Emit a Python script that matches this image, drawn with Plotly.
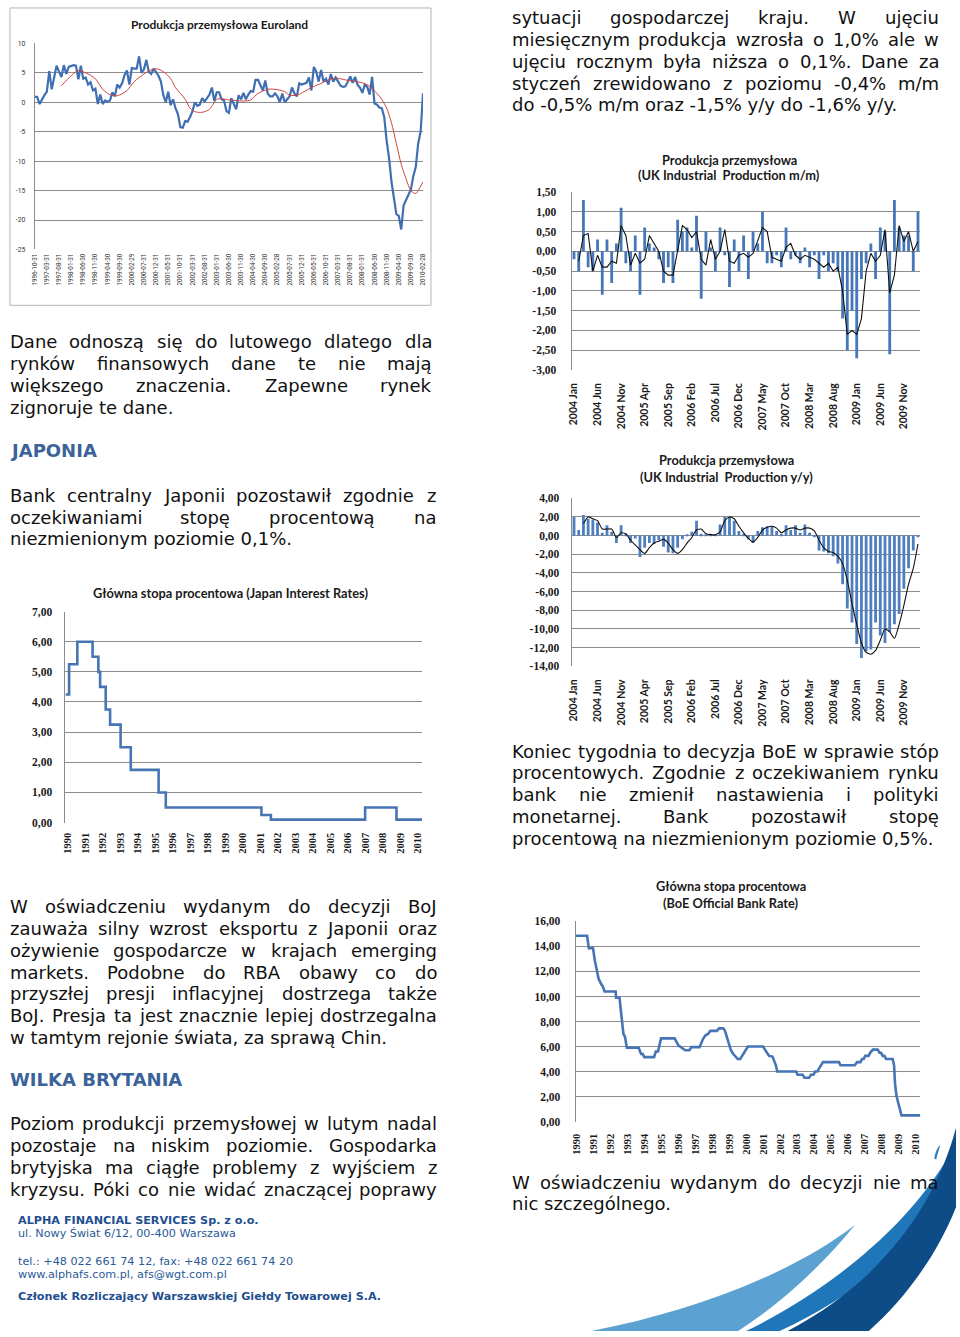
import plotly.graph_objects as go
import pandas as pd

W, H = 960, 1337

# ---------------- data ----------------
# Euroland industrial production y/y, monthly from 1996-10
euro_start = '1996-10'
euro_ip = [0.9, 0.9, -0.3, 0.5, 1.2, 1.8, 5.3, 2.2, 4.3, 6.2, 5.2, 4.3, 6.3, 4.8, 6.0, 6.2, 6.3, 6.2, 3.9, 6.2,
           4.0, 4.2, 3.0, 3.4, 2.0, 2.3,
           -0.3, 1.3, -0.3, 0.3, 0.1, 0.3,
           1.7, 1.0, 3.0, 2.5, 3.2, 4.6, 5.4, 3.0, 5.8, 5.7, 5.7, 7.8, 5.0, 5.6, 7.2, 5.2,
           4.8, 5.7, 5.2, 4.5, 3.5, 1.2, 0.0, 1.8, -0.5, 0.5, -1.0, -2.0, -4.2, -4.3,
           -3.2, -3.3, -2.5, -1.5, 0.0, -0.6, -0.4, 0.7, 0.1, 0.8, 1.3, 2.5, 0.2, 1.7, 1.7, 0.5, 0.3, -1.5,
           -1.8, 0.7, -0.2, -1.2, 1.2, 0.5, 1.6, 0.5, 1.3, 1.9, 1.8, 3.8, 3.8, 2.8, 2.0, 3.7, 1.5, 1.0,
           1.0, 1.5, 1.0, 0.0, 1.5, 0.0, 0.5, 1.0, 2.5, 1.5, 1.0, 3.2, 3.0, 3.2, 3.3, 4.2, 2.0, 6.0,
           5.2, 3.5, 5.5, 3.5, 4.0, 3.0, 4.8, 3.5, 4.2, 3.5, 2.8, 2.6, 2.7, 3.5, 4.4, 3.3, 4.3, 3.0,
           2.5, 1.6, 3.0, 2.6, 1.3, 4.3,
           -0.2, -0.4, -0.9, -1.0, -2.5, -6.5, -9.5, -13.5, -16.5, -19.0, -19.3, -21.6, -17.5, -16.5,
           -15.5, -14.8, -12.5, -11.0, -7.0, -5.0, 1.5]
euro_ma_month = [11, 15, 18, 21, 25, 28, 31, 34, 38, 41, 45, 48, 50, 53, 56, 58, 62, 64, 66, 69, 72, 75, 77,
                 80, 83, 86, 89, 92, 96, 99, 103, 105, 108, 111, 114, 118, 121, 124, 128, 131, 135, 138,
                 141, 143, 145, 147, 149, 151, 153, 155, 157, 158, 160]
euro_ma = [2.8, 4.5, 5.4, 5.0, 4.0, 2.2, 1.3, 1.1, 2.0, 3.5, 4.8, 5.5, 5.7, 5.2, 4.0, 2.5, 0.5, -1.0, -1.6,
           -1.7, -1.2, 0.5, 0.6, 0.4, 0.3, 0.2, 0.4, 1.5, 2.2, 2.2, 1.8, 1.2, 1.2, 1.8, 2.5, 3.2, 3.8, 4.1,
           3.8, 3.6, 3.3, 2.7, 1.5, 0.5, -1.0, -3.5, -7.0, -10.5, -13.0, -15.0, -15.5, -15.0, -13.5]
euro_yticks = [10, 5, 0, -5, -10, -15, -20, -25]

# UK industrial production m/m, monthly from 2004 Jan
uk_start = '2004-01'
uk_mm = [-0.2, -0.5, 1.3, -0.4, -0.5, 0.3, -1.1, 0.3, -0.8, 0.2, 1.1,
         -0.3, -0.5, 0.4, -1.1, 0.6, 0.2, 0.1, -0.2, -0.8, -0.4,
         -0.8, 0.8, 0.5, 0.6, 0.1, 0.9, -1.2, 0.5, 0.1, -0.5,
         0.6, -0.1, -0.9, 0.3, -0.5, 0.4, -0.7, 0.5, 0.2, 1.0,
         -0.3, -0.3, -0.1, -0.4, 0.6, -0.2, -0.1, -0.3, 0.1, -0.4,
         -0.1, -0.7, -0.1, -0.5, -0.3, -0.5, -1.7, -2.5, -1.5, -2.7,
         -0.7, -0.3, 0.2, -0.7, 0.6, 0.5, -2.6, 1.3, 0.6, 0.4,
         0.4, -0.5, 1.0]
uk_mm_avg = [None, -0.25, 0.4, 0.45, -0.5, -0.1, -0.4, -0.4, -0.25, -0.3, 0.65,
             0.4, -0.35, -0.05, -0.3, -0.2, 0.4, 0.2, 0.0, -0.5, -0.6,
             -0.6, 0.0, 0.65, 0.55, 0.35, 0.5, -0.2, -0.35, 0.3, -0.2,
             0.0, 0.55, -0.25, -0.3, -0.1, -0.05, -0.15, -0.05, 0.3, 0.6,
             0.5, -0.15, -0.2, -0.25, 0.1, 0.2, -0.1, -0.2, -0.1, -0.15,
             -0.2, -0.3, -0.4, -0.3, -0.5, -0.4, -1.0, -2.1, -2.0, -2.1,
             -1.7, -0.5, -0.05, -0.25, -0.1, 0.55, -1.05, -0.6, 0.65, 0.25,
             0.5, 0.0, 0.25]
uk_mm_yticks = [1.5, 1.0, 0.5, 0.0, -0.5, -1.0, -1.5, -2.0, -2.5, -3.0]

# UK industrial production y/y
uk_yy = [2.0, 0.6, 2.2, 1.8, 1.7, 1.4, 0.3, 1.1, 0.4, -0.8,
         1.1, 0.2, -0.8, -0.3, -2.3, -1.3, -0.8, -0.9, -0.5, -1.2,
         -1.8, -1.9, -1.3, -0.4, 0.1, 0.4, 1.6, 0.2, 0.1, 0.2,
         0.1, 1.2, 2.0, 2.0, 1.6, 0.5, 0.2, -0.4, -0.8, 0.5,
         0.9, 1.0, 1.0, 0.5, 0.2, 1.1, 0.6, 1.1, 0.3, 1.2,
         0.3, -0.1, -1.6, -1.7, -1.9, -2.2, -3.0, -5.2, -7.8, -9.3,
         -11.6, -13.1, -12.4, -12.2, -9.3, -10.7, -11.5, -10.3, -9.5, -8.4,
         -5.7, -3.5, -1.6, -0.1]
uk_yy_avg = [None, None, 1.3, 2.0, 1.8, 1.6, 0.7, 0.7, 0.7, -0.2, 0.3, 0.2,
             -0.5, -1.0, -1.5, -1.9, -1.3, -0.8, -0.6, -0.4, -0.8, -1.5,
             -1.9, -1.5, -0.8, -0.2, 0.6, 0.7, 0.2, 0.1, 0.1, 0.4,
             1.6, 2.0, 1.8, 1.0, 0.3, -0.3, -0.7, -0.2, 0.6, 0.9,
             1.0, 0.8, 0.3, 0.6, 0.8, 0.8, 0.6, 0.8, 0.8, 0.5,
             -0.5, -1.3, -1.7, -1.8, -2.2, -3.0, -4.8, -7.3, -9.5, -11.5,
             -12.5, -12.7, -12.3, -11.2, -10.0, -10.3, -11.0, -9.5, -7.5, -5.2,
             -3.5, -0.9]
uk_yy_yticks = [4, 2, 0, -2, -4, -6, -8, -10, -12, -14]

# Japan interest rate (step changes, decimal year)
jp_year = [1989.87, 1990.08, 1990.55, 1991.42, 1991.75, 1991.85, 1992.17, 1992.42, 1993.02, 1993.6,
           1995.19, 1995.6, 2001.06, 2001.6, 2006.98, 2008.77, 2010.23]
jp_rate = [4.25, 5.25, 6.0, 5.5, 5.0, 4.5, 3.75, 3.25, 2.5, 1.75, 1.0, 0.5, 0.25, 0.1, 0.5, 0.1, 0.1]
jp_yticks = [0, 1, 2, 3, 4, 5, 6, 7]

# BoE official bank rate (decimal year)
boe_year = [1989.94, 1990.62, 1990.72, 1990.97, 1991.07, 1991.2, 1991.3, 1991.45, 1991.55, 1991.65, 1992.3,
            1992.33, 1992.53, 1992.6, 1992.7, 1992.76, 1992.85, 1992.96, 1993.66, 1993.8, 1993.9, 1993.99,
            1994.57, 1994.67, 1994.8, 1994.88, 1994.98, 1995.78, 1995.88, 1996.0, 1996.2, 1996.4, 1996.65,
            1996.77, 1997.25, 1997.35, 1997.45, 1997.6, 1997.75, 1997.88, 1998.27, 1998.4, 1998.65, 1998.75,
            1998.85, 1998.95, 1999.1, 1999.24, 1999.35, 1999.5, 1999.65, 1999.75, 1999.88, 2000.0, 2000.1,
            2000.99, 2001.1, 2001.24, 2001.35, 2001.55, 2001.67, 2001.75, 2001.83, 2002.94, 2003.03, 2003.33,
            2003.43, 2003.71, 2003.82, 2003.97, 2004.07, 2004.2, 2004.3, 2004.4, 2004.53, 2005.47, 2005.56,
            2006.4, 2006.54, 2006.74, 2006.83, 2006.93, 2007.02, 2007.21, 2007.31, 2007.47, 2007.76, 2007.86,
            2007.95, 2008.05, 2008.15, 2008.25, 2008.64, 2008.72, 2008.78, 2008.87, 2008.97, 2009.07, 2009.16,
            2010.27]
boe_rate = [14.85, 14.85, 13.85, 13.85, 12.9, 11.9, 11.4, 11.0, 10.8, 10.4, 10.4,
            9.9, 9.9, 9.0, 8.0, 7.0, 6.8, 5.9, 5.9, 5.4, 5.4, 5.15,
            5.15, 5.6, 5.6, 6.0, 6.65, 6.65, 6.4, 6.1, 5.9, 5.7, 5.7,
            5.95, 5.95, 6.3, 6.6, 6.9, 7.0, 7.25, 7.25, 7.45, 7.45, 7.25,
            6.8, 6.2, 5.7, 5.4, 5.2, 5.0, 5.0, 5.25, 5.5, 5.8, 6.0,
            6.0, 5.75, 5.5, 5.25, 5.2, 4.75, 4.5, 4.0, 4.0, 3.75, 3.75,
            3.5, 3.5, 3.75, 3.75, 4.0, 4.0, 4.25, 4.5, 4.75, 4.75, 4.5,
            4.5, 4.75, 4.75, 5.0, 5.0, 5.25, 5.25, 5.5, 5.75, 5.75, 5.5,
            5.5, 5.25, 5.25, 5.0, 5.0, 4.5, 3.0, 2.0, 1.5, 1.0, 0.5,
            0.5]
boe_yticks = [0, 2, 4, 6, 8, 10, 12, 14, 16]
years = list(range(1990, 2011))

# ---------------- helpers ----------------
def px(x):
    return x / W


def py(y):
    return 1 - y / H


def fmt(v):
    return f"{v:.2f}".replace('.', ',')


euro_x = list(pd.period_range(euro_start, periods=len(euro_ip), freq='M')
              .to_timestamp(how='end').strftime('%Y-%m-%d'))
uk_cats = list(pd.period_range(uk_start, periods=len(uk_mm), freq='M').strftime('%Y %b'))

BLUE = '#4674b4'
GRID = '#8c8c8c'

fig = go.Figure()

# Euroland
fig.add_trace(go.Scatter(x=euro_x, y=euro_ip, mode='lines', line=dict(color='#3f6fb2', width=2.2),
                         xaxis='x', yaxis='y'))
fig.add_trace(go.Scatter(x=[euro_x[i] for i in euro_ma_month], y=euro_ma, mode='lines',
                         line=dict(color='#d0443e', width=1, shape='spline', smoothing=0.8),
                         xaxis='x', yaxis='y'))
# UK m/m
fig.add_trace(go.Bar(x=uk_cats, y=uk_mm, marker=dict(color='#4677b8', line=dict(width=0)), width=0.6,
                     xaxis='x2', yaxis='y2'))
fig.add_trace(go.Scatter(x=uk_cats[:len(uk_mm_avg)], y=uk_mm_avg, mode='lines',
                         line=dict(color='#111111', width=1.1), xaxis='x2', yaxis='y2'))
# UK y/y
fig.add_trace(go.Bar(x=uk_cats[:len(uk_yy)], y=uk_yy, marker=dict(color='#4f7fbe', line=dict(width=0)),
                     width=0.6, xaxis='x3', yaxis='y3'))
fig.add_trace(go.Scatter(x=uk_cats[:len(uk_yy_avg)], y=uk_yy_avg, mode='lines',
                         line=dict(color='#111111', width=1.1, shape='spline', smoothing=0.6),
                         xaxis='x3', yaxis='y3'))
# Japan
fig.add_trace(go.Scatter(x=jp_year, y=jp_rate, mode='lines', line=dict(color=BLUE, width=2.6, shape='hv'),
                         xaxis='x4', yaxis='y4'))
# BoE
fig.add_trace(go.Scatter(x=boe_year, y=boe_rate, mode='lines', line=dict(color=BLUE, width=2.6),
                         xaxis='x5', yaxis='y5'))

serif_bold = dict(family='Liberation Serif', size=11.5, color='#1a1a1a', weight='bold')
sans_bold = dict(family='Lato', size=10.5, color='#1a1a1a', weight='bold')


def yax(domain, rng, ticks, font, standoff, labels=None):
    return dict(domain=domain, range=rng, tickvals=ticks,
                ticktext=labels if labels else [fmt(t) for t in ticks],
                showgrid=True, gridcolor=GRID, gridwidth=1, zeroline=False,
                showline=True, linecolor=GRID, linewidth=1, ticks='', tickfont=font,
                ticklabelstandoff=standoff, fixedrange=True)


euro_y_dom = [py(245.7), py(37.7)]
euro_zero_pos = euro_y_dom[0] + (0 - (-25)) / 35 * (euro_y_dom[1] - euro_y_dom[0])

layout = dict(
    width=W, height=H, margin=dict(l=0, r=0, t=0, b=0), autosize=False,
    paper_bgcolor='white', plot_bgcolor='white', showlegend=False,
    xaxis=dict(domain=[px(30), px(422)], type='category', range=[0, len(euro_ip) - 1],
               tickvals=euro_x[::5], ticktext=euro_x[::5], tickangle=-90,
               tickfont=dict(family='Roboto', size=6.3, color='#333'), showgrid=False,
               showline=False, ticks='', ticklabelstandoff=2, anchor='y'),
    xaxis6=dict(overlaying='x', anchor='free', position=euro_zero_pos, range=[0, len(euro_ip) - 1],
                tickvals=list(range(0, len(euro_ip), 5)), showticklabels=False, ticks='outside',
                ticklen=3, tickcolor=GRID, showgrid=False, showline=False, zeroline=False),
    yaxis=yax(euro_y_dom, [-25, 10], euro_yticks,
              dict(family='Roboto', size=6.8, color='#333'), 7, [str(t) for t in euro_yticks]),
    xaxis2=dict(domain=[px(572), px(924)], type='category', range=[-0.5, len(uk_mm) - 0.5],
                tickvals=uk_cats[::5], tickangle=-90, tickfont=sans_bold, showgrid=False,
                showline=False, ticks='', ticklabelstandoff=10, anchor='y2'),
    yaxis2=yax([py(367.3), py(187.7)], [-3, 1.5], uk_mm_yticks, serif_bold, 12),
    xaxis3=dict(domain=[px(572), px(924)], type='category', range=[-0.5, len(uk_yy) - 0.5],
                tickvals=uk_cats[::5], tickangle=-90, tickfont=sans_bold, showgrid=False,
                showline=False, ticks='', ticklabelstandoff=10, anchor='y3'),
    yaxis3=yax([py(666.3), py(496.7)], [-14, 4], uk_yy_yticks, serif_bold, 9),
    xaxis4=dict(domain=[px(61), px(421)], range=[1989.87, 2010.23], tickvals=years,
                ticktext=[str(y) for y in years], tickangle=-90,
                tickfont=dict(family='Liberation Serif', size=10.5, color='#1a1a1a', weight='bold'),
                showgrid=False, showline=False, ticks='', ticklabelstandoff=7, anchor='y4'),
    yaxis4=yax([py(824), py(611)], [0, 7], jp_yticks, serif_bold, 10),
    xaxis5=dict(domain=[px(576), px(924)], range=[1989.94, 2010.27], tickvals=years,
                ticktext=[str(y) for y in years], tickangle=-90,
                tickfont=dict(family='Liberation Serif', size=10.5, color='#1a1a1a', weight='bold'),
                showgrid=False, showline=False, ticks='', ticklabelstandoff=9, anchor='y5'),
    yaxis5=yax([py(1125.7), py(923.7)], [0, 16], boe_yticks, serif_bold, 12),
)
for k in ['yaxis', 'yaxis2', 'yaxis3', 'yaxis4', 'yaxis5']:
    layout[k]['anchor'] = 'x' + k[5:]
fig.update_layout(**layout)

# ---------------- text ----------------
CW = {' ': 651, '!': 821, '%': 1946, '(': 799, ')': 799, ',': 651, '-': 739, '.': 651, '/': 690, ':': 690,
      'A': 1401, 'B': 1405, 'C': 1430, 'D': 1577, 'E': 1294, 'F': 1178, 'G': 1587, 'H': 1540, 'I': 604,
      'J': 604, 'K': 1343, 'L': 1141, 'M': 1767, 'N': 1532, 'O': 1612, 'P': 1235, 'Q': 1612, 'R': 1423,
      'S': 1300, 'T': 1251, 'U': 1499, 'V': 1401, 'W': 2025, 'X': 1403, 'Y': 1251, 'Z': 1403,
      'a': 1255, 'b': 1300, 'c': 1126, 'd': 1300, 'e': 1260, 'f': 721, 'g': 1300, 'h': 1298, 'i': 569,
      'j': 569, 'k': 1186, 'l': 569, 'm': 1995, 'n': 1298, 'o': 1253, 'p': 1300, 'q': 1300, 'r': 842,
      's': 1067, 't': 803, 'u': 1298, 'v': 1212, 'w': 1675, 'x': 1212, 'y': 1212, 'z': 1075,
      'ą': 1255, 'ć': 1126, 'ę': 1260, 'ł': 589, 'ń': 1298, 'ó': 1253, 'ś': 1067, 'ź': 1075, 'ż': 1075,
      'Ś': 1300, 'Ł': 1141}
for d in '0123456789':
    CW[d] = 1303

FS = 18
anns = []


def tw(s, fs=FS):
    return sum(CW.get(c, 1250) for c in s) / 2048 * fs


def text_ann(text, x, base, anchor='left', fs=FS, color='#111111', family='DejaVu Sans'):
    anns.append(dict(text=text, x=px(x), y=py(base - 0.346 * fs), xref='paper', yref='paper',
                     xanchor=anchor, yanchor='middle', showarrow=False, borderpad=0, borderwidth=0,
                     font=dict(family=family, size=fs, color=color)))


def paragraph(lines, x0, x1, base0, step=22, last_justified=False):
    for li, line in enumerate(lines):
        base = base0 + li * step
        justify = (li < len(lines) - 1) or last_justified
        if not justify:
            text_ann(line, x0, base)
            continue
        words = line.split(' ')
        n = len(words)
        wd = [tw(w) for w in words]
        gap = (x1 - x0 - sum(wd)) / (n - 1)
        for i, w in enumerate(words):
            if i == 0:
                text_ann(w, x0, base, 'left')
            elif i == n - 1:
                text_ann(w, x1, base, 'right')
            elif i < n / 2:
                text_ann(w, x0 + sum(wd[:i]) + i * gap + wd[i] / 2, base, 'center')
            else:
                text_ann(w, x1 - sum(wd[i + 1:]) - (n - 1 - i) * gap - wd[i] / 2, base, 'center')


paragraph(["sytuacji gospodarczej kraju. W ujęciu",
           "miesięcznym produkcja wzrosła o 1,0% ale w",
           "ujęciu rocznym była niższa o 0,1%. Dane za",
           "styczeń zrewidowano z poziomu -0,4% m/m",
           "do -0,5% m/m oraz -1,5% y/y do -1,6% y/y."], 512, 943, 18)
paragraph(["Dane odnoszą się do lutowego dlatego dla",
           "rynków finansowych dane te nie mają",
           "większego znaczenia. Zapewne rynek",
           "zignoruje te dane."], 5, 431, 345)
text_ann('<b>JAPONIA</b>', 5, 455, color='#3b6399')
paragraph(["Bank centralny Japonii pozostawił zgodnie z",
           "oczekiwaniami stopę procentową na",
           "niezmienionym poziomie 0,1%."], 5, 435, 500)
paragraph(["Koniec tygodnia to decyzja BoE w sprawie stóp",
           "procentowych. Zgodnie z oczekiwaniem rynku",
           "bank nie zmienił nastawienia i polityki",
           "monetarnej. Bank pozostawił stopę",
           "procentową na niezmienionym poziomie 0,5%."], 512, 943, 758)
paragraph(["W oświadczeniu wydanym do decyzji BoJ",
           "zauważa silny wzrost eksportu z Japonii oraz",
           "ożywienie gospodarcze w krajach emerging",
           "markets. Podobne do RBA obawy co do",
           "przyszłej presji inflacyjnej dostrzega także",
           "BoJ. Presja ta jest znacznie lepiej dostrzegalna",
           "w tamtym rejonie świata, za sprawą Chin."], 5, 436, 915)
text_ann('<b>WILKA BRYTANIA</b>', 5, 1089, color='#3b6399')
paragraph(["Poziom produkcji przemysłowej w lutym nadal",
           "pozostaje na niskim poziomie. Gospodarka",
           "brytyjska ma ciągłe problemy z wyjściem z",
           "kryzysu. Póki co nie widać znaczącej poprawy"], 5, 436, 1134, last_justified=True)
paragraph(["W oświadczeniu wydanym do decyzji nie ma",
           "nic szczególnego."], 512, 943, 1193)

# footer
FOOT = '#2a5a98'
for txt, base, bold in [("ALPHA FINANCIAL SERVICES Sp. z o.o.", 1229.5, True),
                        ("ul. Nowy Świat 6/12, 00-400 Warszawa", 1242.5, False),
                        ("tel.: +48 022 661 74 12, fax: +48 022 661 74 20", 1270.5, False),
                        ("www.alphafs.com.pl, afs@wgt.com.pl", 1284, False),
                        ("Członek Rozliczający Warszawskiej Giełdy Towarowej S.A.", 1306, True)]:
    text_ann(f"<b>{txt}</b>" if bold else txt, 13, base, fs=11.2,
             color='#1f4f8f' if bold else FOOT)


# chart titles
def title(text, x, yc, size=12.8):
    anns.append(dict(text=f"<b>{text}</b>", x=px(x), y=py(yc), xref='paper', yref='paper',
                     xanchor='center', yanchor='middle', showarrow=False,
                     font=dict(family='Lato', size=size, color='#1a1a1a')))


title("Produkcja przemysłowa Euroland", 217, 19, 12)
title("Produkcja przemysłowa", 731, 155)
title("(UK Industrial  Production m/m)", 731, 170.5)
title("Produkcja przemysłowa", 728, 458.5)
title("(UK Industrial  Production y/y)", 728, 475)
title("Główna stopa procentowa (Japan Interest Rates)", 228, 592)
title("Główna stopa procentowa", 733, 888)
title("(BoE Official Bank Rate)", 733, 905)

fig.update_layout(annotations=anns)


# ---------------- shapes ----------------
def pt(x, y):
    return f"{x / W:.5f},{1 - y / H:.5f}"


shapes = [
    dict(type='rect', xref='paper', yref='paper', x0=px(5), x1=px(430), y0=py(302), y1=py(2),
         line=dict(color='#b4b4b4', width=1), layer='below'),
    dict(type='path', xref='paper', yref='paper', line=dict(width=0), fillcolor='#5ba2d2',
         path=f"M {pt(592, 1337)} C {pt(690, 1318)} {pt(790, 1282)} {pt(858, 1230)} "
              f"C {pt(822, 1274)} {pt(782, 1310)} {pt(740, 1337)} Z"),
    dict(type='path', xref='paper', yref='paper', line=dict(width=0), fillcolor='#1f76b8',
         path=f"M {pt(748, 1337)} C {pt(825, 1300)} {pt(905, 1238)} {pt(948, 1168)} "
              f"C {pt(935, 1230)} {pt(880, 1292)} {pt(782, 1337)} Z"),
    dict(type='path', xref='paper', yref='paper', line=dict(width=0), fillcolor='#0e4c87',
         path=f"M {pt(790, 1337)} C {pt(880, 1290)} {pt(938, 1215)} {pt(960, 1132)} "
              f"L {pt(960, 1212)} C {pt(940, 1262)} {pt(908, 1305)} {pt(872, 1337)} Z"),
    dict(type='path', xref='paper', yref='paper', line=dict(width=0), fillcolor='#2a7fc0',
         path=f"M {pt(938, 1163)} C {pt(939, 1157)} {pt(941, 1152)} {pt(944, 1149)} "
              f"C {pt(943, 1154)} {pt(941, 1159)} {pt(940, 1164)} Z"),
]
fig.update_layout(shapes=shapes)

fig.write_html("out.html")
